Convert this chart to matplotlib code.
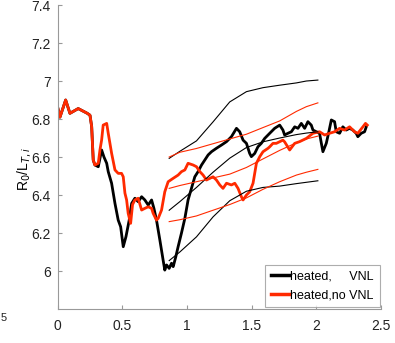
import matplotlib
matplotlib.use("Agg")
import matplotlib.pyplot as plt
from matplotlib.ticker import FuncFormatter

# --- data ---
red_x = [0.0, 0.019, 0.063, 0.096, 0.160, 0.230, 0.251, 0.264, 0.276, 0.289, 0.315, 0.328,
         0.341, 0.353, 0.380, 0.392, 0.418, 0.444, 0.469, 0.495, 0.508, 0.521, 0.534, 0.546,
         0.565, 0.580, 0.598, 0.623, 0.650, 0.675, 0.701, 0.727, 0.739, 0.765, 0.778, 0.804,
         0.829, 0.855, 0.894, 0.932, 0.958, 0.984, 1.009, 1.048, 1.074, 1.100, 1.125, 1.151,
         1.177, 1.202, 1.228, 1.254, 1.279, 1.306, 1.344, 1.370, 1.395, 1.421, 1.434, 1.460,
         1.485, 1.511, 1.537, 1.563, 1.588, 1.627, 1.640, 1.665, 1.691, 1.742, 1.755, 1.794,
         1.833, 1.871, 1.923, 1.974, 2.025, 2.064, 2.103, 2.141, 2.180, 2.218, 2.257, 2.295,
         2.321, 2.360, 2.380, 2.394]
red_y = [6.865, 6.810, 6.900, 6.830, 6.855, 6.830, 6.820, 6.760, 6.584, 6.558, 6.567, 6.637,
         6.690, 6.768, 6.777, 6.725, 6.620, 6.532, 6.514, 6.514, 6.496, 6.410, 6.374, 6.304,
         6.251, 6.350, 6.374, 6.383, 6.321, 6.330, 6.338, 6.330, 6.304, 6.268, 6.277, 6.321,
         6.417, 6.470, 6.488, 6.505, 6.523, 6.532, 6.567, 6.558, 6.549, 6.523, 6.505, 6.479,
         6.488, 6.496, 6.479, 6.453, 6.435, 6.462, 6.453, 6.462, 6.435, 6.391, 6.374, 6.400,
         6.417, 6.462, 6.567, 6.602, 6.628, 6.646, 6.654, 6.672, 6.672, 6.689, 6.680, 6.637,
         6.672, 6.681, 6.698, 6.725, 6.733, 6.716, 6.725, 6.733, 6.751, 6.742, 6.759, 6.733,
         6.725, 6.759, 6.777, 6.768]

black_x = [0.0, 0.019, 0.063, 0.096, 0.160, 0.230, 0.251, 0.264, 0.276, 0.289, 0.315, 0.341,
           0.359, 0.380, 0.392, 0.418, 0.444, 0.469, 0.488, 0.508, 0.529, 0.554, 0.573, 0.598,
           0.623, 0.650, 0.675, 0.701, 0.727, 0.745, 0.765, 0.791, 0.816, 0.829, 0.843, 0.863,
           0.881, 0.894, 0.914, 0.932, 0.958, 0.984, 1.009, 1.035, 1.061, 1.086, 1.113, 1.138,
           1.164, 1.190, 1.228, 1.267, 1.306, 1.344, 1.383, 1.408, 1.434, 1.460, 1.485, 1.498,
           1.524, 1.549, 1.575, 1.601, 1.640, 1.678, 1.717, 1.742, 1.755, 1.781, 1.807, 1.833,
           1.858, 1.884, 1.910, 1.935, 1.961, 1.974, 2.000, 2.025, 2.039, 2.051, 2.077, 2.097,
           2.116, 2.141, 2.154, 2.180, 2.205, 2.231, 2.257, 2.282, 2.308, 2.321, 2.347, 2.373,
           2.386]
black_y = [6.865, 6.810, 6.900, 6.830, 6.855, 6.830, 6.820, 6.760, 6.584, 6.558, 6.549, 6.637,
           6.600, 6.567, 6.523, 6.462, 6.356, 6.268, 6.233, 6.128, 6.181, 6.268, 6.356, 6.383,
           6.365, 6.391, 6.374, 6.347, 6.374, 6.330, 6.268, 6.163, 6.058, 6.005, 6.032, 6.014,
           6.041, 6.023, 6.075, 6.128, 6.200, 6.277, 6.374, 6.435, 6.496, 6.523, 6.558, 6.584,
           6.611, 6.628, 6.646, 6.663, 6.681, 6.707, 6.751, 6.733, 6.689, 6.672, 6.619, 6.602,
           6.619, 6.654, 6.672, 6.698, 6.725, 6.751, 6.768, 6.742, 6.716, 6.725, 6.733, 6.759,
           6.751, 6.777, 6.751, 6.786, 6.768, 6.742, 6.733, 6.725, 6.672, 6.628, 6.672, 6.733,
           6.795, 6.786, 6.733, 6.725, 6.759, 6.742, 6.751, 6.742, 6.725, 6.707, 6.725, 6.733,
           6.759]

band_x = [0.863, 0.945, 1.074, 1.202, 1.331, 1.46, 1.588, 1.717, 1.846, 1.923, 2.012]
black_upper = [6.593, 6.630, 6.685, 6.785, 6.890, 6.944, 6.965, 6.978, 6.990, 7.000, 7.005]
black_mid = [6.320, 6.365, 6.440, 6.520, 6.594, 6.650, 6.680, 6.700, 6.718, 6.726, 6.733]
black_lower = [6.055, 6.100, 6.180, 6.285, 6.370, 6.420, 6.440, 6.447, 6.460, 6.467, 6.475]
red_upper = [6.600, 6.625, 6.645, 6.670, 6.695, 6.720, 6.755, 6.790, 6.840, 6.865, 6.885]
red_mid = [6.435, 6.450, 6.470, 6.490, 6.510, 6.545, 6.590, 6.635, 6.675, 6.695, 6.710]
red_lower = [6.260, 6.270, 6.290, 6.320, 6.350, 6.385, 6.430, 6.470, 6.505, 6.520, 6.535]

x_ticks = [0, 0.5, 1, 1.5, 2, 2.5]
y_ticks = [6, 6.2, 6.4, 6.6, 6.8, 7, 7.2, 7.4]
legend_labels = ["heated,     VNL", "heated,no VNL"]

RED = "#ff2a00"
plt.rcParams['font.family'] = ['Liberation Sans', 'DejaVu Sans']

fig = plt.figure(figsize=(3.95, 3.43), dpi=100)
ax = fig.add_axes([0.1456, 0.099, 0.8190, 0.8864])

l1, = ax.plot(black_x, black_y, color="black", lw=2.0, label=legend_labels[0])
l2, = ax.plot(red_x, red_y, color=RED, lw=2.0, label=legend_labels[1])
for yy in (black_upper, black_mid, black_lower):
    ax.plot(band_x, yy, color="black", lw=0.8)
for yy in (red_upper, red_mid, red_lower):
    ax.plot(band_x, yy, color=RED, lw=0.8)

ax.set_xlim(0, 2.5)
ax.set_ylim(5.8, 7.4)
ax.set_xticks(x_ticks)
ax.set_yticks(y_ticks)
fmt = FuncFormatter(lambda v, p: "%g" % v)
ax.xaxis.set_major_formatter(fmt)
ax.yaxis.set_major_formatter(fmt)
for s in ("top", "right"):
    ax.spines[s].set_visible(False)
for s in ("left", "bottom"):
    ax.spines[s].set_color("#999999")
    ax.spines[s].set_linewidth(0.8)
ax.tick_params(direction="in", length=3, color="#999999", labelsize=10, labelcolor="#222222")
ax.tick_params(axis="x", pad=7)
ax.tick_params(axis="y", pad=5)
ax.set_ylabel(r"R$_0$/L$_{T,i}$", fontsize=10)
ax.yaxis.set_label_coords(-0.075, 0.46)

leg = ax.legend(handles=[l1, l2], loc="lower right", bbox_to_anchor=(0.9954, 0.0066),
                frameon=True, fancybox=False, fontsize=9, handlelength=1.4,
                handletextpad=0.15, borderpad=0.45, labelspacing=0.55, borderaxespad=0)
leg.get_frame().set_edgecolor("#999999")
leg.get_frame().set_linewidth(0.8)
for line in leg.get_lines():
    line.set_linewidth(2.5)

# neighbouring label fragment at the left edge
fig.text(0.001, 0.073, "5", fontsize=8, color="#222222", va="center", ha="left")

fig.savefig("out.png", dpi=100)
